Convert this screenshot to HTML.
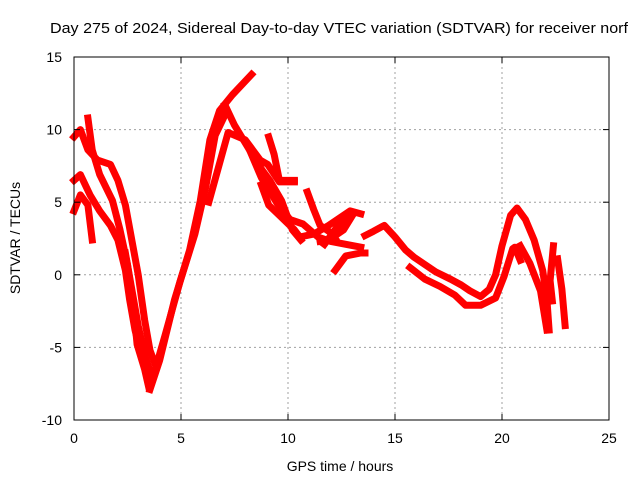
<!DOCTYPE html>
<html><head><meta charset="utf-8"><style>
body{margin:0;background:#fff;width:640px;height:480px;overflow:hidden}
svg{display:block;font-family:"Liberation Sans",sans-serif}
</style></head><body>
<svg id="chart" width="640" height="480">
<text x="339" y="33" text-anchor="middle" font-size="15" textLength="578" lengthAdjust="spacingAndGlyphs">Day 275 of 2024, Sidereal Day-to-day VTEC variation (SDTVAR) for receiver norf</text>
<g id="grid"></g>
<g id="series"></g>
<rect x="74" y="57" width="535" height="363" fill="none" stroke="#000" stroke-width="1"/>
<g id="axes"></g>
<text x="340" y="471" text-anchor="middle" font-size="14">GPS time / hours</text>
<text transform="translate(20,238) rotate(-90)" text-anchor="middle" font-size="14">SDTVAR / TECUs</text>
</svg>
<script>
const xTicks=[0,5,10,15,20,25];
const yTicks=[-10,-5,0,5,10,15];
const trackTimes=[
[0,0.3,0.65,1.1,1.7,2.05,2.4,2.7,3.0,3.3,3.55,3.8],
[0.65,0.85,1.2,1.8,2.15,2.5,2.75,2.95,3.3,3.5],
[0,0.3,0.75,1.2,1.7,2.05,2.4,2.6,2.85,3.2,3.55],
[0,0.3,0.65,0.85],
[3.55,4.0,4.7,5.4,5.9,6.35,6.8,7.4,8.3],
[3.8,4.25,4.95,5.65,6.15,6.6,7.05],
[2.4,2.7,3.0,3.3,3.6],
[7.05,7.5,8.2,8.8,9.15,9.7,10.2,10.6],
[6.3,7.2,8.0,8.7,9.05,9.6,10.3],
[8.2,8.75,9.5,10.1,10.7,11.4,12.0,12.7,13.4],
[8.75,9.1,9.6,10.3,10.55,11.2,11.9,12.9,13.4],
[11.7,12.3,13.1,12.6,11.9,11.5],
[9.1,9.35,9.6,10.3],
[10.9,11.2,11.5,12.0,12.2],
[12.2,12.7,13.4,13.6],
[13.6,14.0,14.5,15.0,15.5,15.9,16.4,16.9,17.6,18.1,18.5,19.0,19.4,19.7,20.0,20.4,20.7,21.1,21.5,21.9,22.1,22.2],
[15.7,16.4,17.1,17.8,18.3,19.0,19.7,20.1,20.5,20.6,20.85],
[20.85,21.3,21.8,22.1],
[22.4,22.25,22.35],
[22.6,22.8,22.95]
];
const trackVals=[
[9.5,10,8.6,7.9,7.6,6.5,4.8,2.4,0,-3.1,-5.2,-6.2],
[10.8,8.6,6.9,5.1,3.1,0.7,-1.7,-4.8,-6.5,-7.8],
[6.5,6.9,5.5,4.4,3.4,2.4,0.3,-1.7,-3.8,-5.9,-6.9],
[4.4,5.5,4.8,2.4],
[-7.9,-5.9,-1.7,1.7,5.1,9.3,11.3,12.4,13.8],
[-6.5,-4.2,-0.5,2.8,6.0,9.6,11.0],
[1.5,-1.0,-3.5,-5.5,-6.8],
[11.7,10.3,8.6,7.2,6.5,5.1,3.1,2.4],
[5.0,9.8,9.3,7.9,7.6,6.4,6.4],
[8.6,6.7,4.9,3.8,3.5,2.6,2.3,2.1,1.9],
[6.2,4.8,4.1,3.1,2.6,2.8,3.4,4.4,4.2],
[2.1,3.3,4.3,3.1,2.4,2.3],
[9.5,8.3,6.5,6.5],
[5.7,4.5,3.4,2.9,2.5],
[0.3,1.3,1.5,1.5],
[2.7,3.0,3.4,2.6,1.7,1.2,0.7,0.2,-0.3,-0.7,-1.1,-1.5,-1.0,0,2.0,4.1,4.6,3.8,2.4,0.3,-1.7,-3.8],
[0.5,-0.3,-0.8,-1.4,-2.1,-2.1,-1.6,-0.1,1.8,1.9,1.0],
[2.0,0.8,-1.1,-3.8],
[2.0,-0.4,-1.8],
[1.1,-1.0,-3.5]
];
const X=t=>74+t*21.4, Y=v=>274.8-v*14.52;
const NS='http://www.w3.org/2000/svg';
const grid=document.getElementById('grid'),axes=document.getElementById('axes'),ser=document.getElementById('series');
function mk(tag,attrs,parent){const e=document.createElementNS(NS,tag);for(const k in attrs)e.setAttribute(k,attrs[k]);parent.appendChild(e);return e;}
xTicks.forEach(t=>{
  if(t>0&&t<25){const g=mk('line',{x1:X(t),x2:X(t),y1:57,y2:420,stroke:'#a0a0a0','stroke-dasharray':'2,3'},grid);
  
  }
  mk('line',{x1:X(t),x2:X(t),y1:420,y2:414,stroke:'#000'},axes);
  mk('line',{x1:X(t),x2:X(t),y1:57,y2:63,stroke:'#000'},axes);
  const l=mk('text',{x:X(t),y:443,'text-anchor':'middle','font-size':14},axes);l.textContent=t;
  
  
});
yTicks.forEach(v=>{
  if(v>-10&&v<15){const g=mk('line',{x1:74,x2:609,y1:Y(v),y2:Y(v),stroke:'#a0a0a0','stroke-dasharray':'2,3'},grid);
  
  }
  mk('line',{x1:74,x2:80,y1:Y(v),y2:Y(v),stroke:'#000'},axes);
  mk('line',{x1:603,x2:609,y1:Y(v),y2:Y(v),stroke:'#000'},axes);
  const l=mk('text',{x:62,y:Y(v)+5,'text-anchor':'end','font-size':14},axes);l.textContent=v;
  
  
});
trackTimes.forEach((ts,i)=>{
  const vs=trackVals[i];
  const d=ts.map((t,j)=>(j?'L':'M')+X(t).toFixed(1)+','+Y(vs[j]).toFixed(1)).join(' ');
  const p=mk('path',{d:d,fill:'none',stroke:'#ff0000','stroke-width':7,'stroke-linejoin':'round','stroke-linecap':'square'},ser);
  
  
});
</script>
</body></html>
